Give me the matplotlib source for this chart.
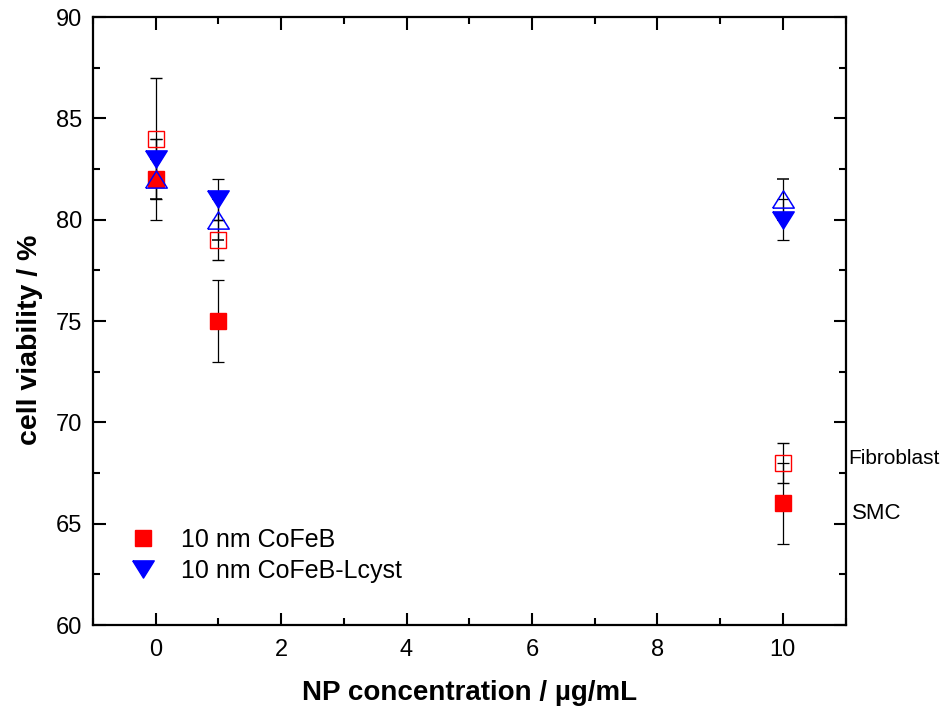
import matplotlib.pyplot as plt
from matplotlib.ticker import MultipleLocator
from matplotlib.lines import Line2D

plt.rcParams['font.family'] = ['Liberation Sans', 'DejaVu Sans']

# NP concentration (µg/mL)
conc = [0, 1, 10]

# 10 nm CoFeB
cofeb_smc = [82, 75, 66]
cofeb_smc_err = [2, 2, 2]
cofeb_fib = [84, 79, 68]
cofeb_fib_err = [3, 1, 1]

# 10 nm CoFeB-Lcyst
lcyst_smc = [83, 81, 80]
lcyst_smc_err = [1, 1, 1]
lcyst_fib = [82, 80, 81]
lcyst_fib_err = [1, 1, 1]

# wide, flat triangles like the original plotting software
tri_up = [(-1, -0.8), (1, -0.8), (0, 0.8), (-1, -0.8)]
tri_dn = [(-1, 0.8), (1, 0.8), (0, -0.8), (-1, 0.8)]

fig = plt.figure(figsize=(9.53, 7.1), dpi=100)
ax = fig.add_axes([0.0976, 0.1197, 0.7896, 0.8563])

eb = dict(ecolor='black', elinewidth=0.9, capsize=4.5, capthick=0.9, linestyle='none')

ax.errorbar(conc, cofeb_fib, yerr=cofeb_fib_err, marker='s', ms=11,
            mfc='none', mec='red', mew=1.0, **eb)
ax.errorbar(conc, cofeb_smc, yerr=cofeb_smc_err, marker='s', ms=11,
            mfc='red', mec='red', **eb)
ax.errorbar(conc, lcyst_fib, yerr=lcyst_fib_err, marker=tri_up, ms=15.5,
            mfc='none', mec='blue', mew=1.1, **eb)
ax.errorbar(conc, lcyst_smc, yerr=lcyst_smc_err, marker=tri_dn, ms=15.5,
            mfc='blue', mec='blue', **eb)

ax.set_xlim(-1, 11)
ax.set_ylim(60, 90)
ax.xaxis.set_major_locator(MultipleLocator(2))
ax.xaxis.set_minor_locator(MultipleLocator(1))
ax.yaxis.set_major_locator(MultipleLocator(5))
ax.yaxis.set_minor_locator(MultipleLocator(2.5))
ax.tick_params(which='both', direction='in', top=True, right=True,
               width=1.5, labelsize=17)
ax.tick_params(axis='x', pad=10)
ax.tick_params(axis='y', pad=8)
ax.tick_params(which='major', length=9)
ax.tick_params(which='minor', length=5)
for s in ax.spines.values():
    s.set_linewidth(1.6)

ax.set_xlabel('NP concentration / µg/mL', fontsize=20, fontweight='bold', labelpad=14)
ax.set_ylabel('cell viability / %', fontsize=20.5, fontweight='bold', labelpad=9)
ax.yaxis.label.set_y(0.469)

ax.text(11.05, 68.2, 'Fibroblast', fontsize=15, va='center', clip_on=False)
ax.text(11.1, 65.5, 'SMC', fontsize=16, va='center', clip_on=False)

handles = [
    Line2D([], [], linestyle='none', marker='s', ms=11, mfc='red', mec='red'),
    Line2D([], [], linestyle='none', marker=tri_dn, ms=15.5, mfc='blue', mec='blue'),
]
ax.legend(handles, ['10 nm CoFeB', '10 nm CoFeB-Lcyst'],
          loc='lower left', bbox_to_anchor=(0.02, 0.032), frameon=False,
          fontsize=18, handlelength=1.0, handletextpad=1.0, labelspacing=0.28)

plt.savefig('out.png', dpi=100)
